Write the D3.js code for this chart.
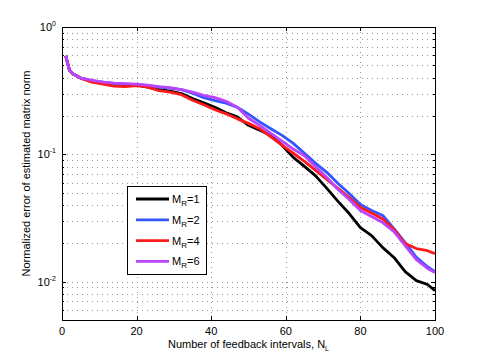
<!DOCTYPE html>
<html>
<head>
<meta charset="utf-8">
<script src="https://cdn.jsdelivr.net/npm/d3@7"></script>
<style>
  body { margin: 0; background: #fff; }
  svg { display: block; font-family: "Liberation Sans", Arial, sans-serif; }
</style>
</head>
<body>
<svg id="chart" width="480" height="360"></svg>
<script>
// feedback intervals N_L where values were read
const intervals = [1, 2, 3, 5, 8, 11, 14, 17, 20, 23, 26, 29, 32, 35, 38, 41, 44, 47, 50,
  53, 56, 59, 62, 65, 68, 71, 74, 77, 80, 83, 86, 89, 92, 95, 98, 100];

const errMR1 = [0.594, 0.458, 0.427, 0.397, 0.376, 0.362, 0.349, 0.346, 0.349, 0.337, 0.322, 0.313,
  0.300, 0.274, 0.254, 0.234, 0.212, 0.197, 0.169, 0.155, 0.140, 0.118, 0.0947, 0.0804, 0.0677,
  0.0540, 0.0427, 0.0343, 0.0266, 0.0230, 0.0185, 0.0155, 0.0120, 0.0102, 0.0095, 0.0085];
const errMR2 = [0.594, 0.458, 0.427, 0.397, 0.376, 0.369, 0.359, 0.356, 0.353, 0.346, 0.337, 0.331,
  0.322, 0.302, 0.279, 0.264, 0.252, 0.234, 0.207, 0.180, 0.159, 0.141, 0.122, 0.102, 0.0849,
  0.0722, 0.0591, 0.0493, 0.0404, 0.0362, 0.0331, 0.0261, 0.0203, 0.0155, 0.0131, 0.0120];
const errMR4 = [0.594, 0.458, 0.427, 0.397, 0.369, 0.356, 0.343, 0.340, 0.346, 0.337, 0.316, 0.308,
  0.294, 0.266, 0.245, 0.224, 0.208, 0.190, 0.175, 0.159, 0.137, 0.118, 0.102, 0.0881, 0.0748,
  0.0635, 0.0540, 0.0458, 0.0383, 0.0346, 0.0311, 0.0257, 0.0199, 0.0182, 0.0175, 0.0166];
const errMR6 = [0.594, 0.458, 0.427, 0.397, 0.383, 0.369, 0.362, 0.359, 0.356, 0.349, 0.340, 0.334,
  0.322, 0.308, 0.291, 0.279, 0.261, 0.234, 0.192, 0.169, 0.146, 0.127, 0.110, 0.0973, 0.0800,
  0.0659, 0.0530, 0.0442, 0.0362, 0.0325, 0.0291, 0.0247, 0.0192, 0.0149, 0.0127, 0.0118];

const seriesNames = ["1", "2", "4", "6"];
const seriesData = [errMR1, errMR2, errMR4, errMR6];
const colors = ["#000000", "#3355ff", "#ff1a1a", "#bb44ff"];

const xTicks = [0, 20, 40, 60, 80, 100];
const yMajor = [0.01, 0.1, 1];
const yExp = ["-2", "-1", "0"];

const svg = d3.select("#chart");
const plotL = 62, plotR = 435, plotT = 27, plotB = 320;

const x = d3.scaleLinear().domain([0, 100]).range([plotL, plotR]);
const y = d3.scaleLog().domain([0.005, 1]).range([plotB, plotT]);

// minor log positions
const yMinor = [];
[0.001, 0.01, 0.1].forEach(d => {
  for (let k = 2; k <= 9; k++) {
    const v = k * d;
    if (v >= 0.005 && v < 1) yMinor.push(v);
  }
});
const yGrid = yMinor.concat([0.01, 0.1]);

const grid = svg.append("g")
  .attr("stroke", "#999")
  .attr("stroke-width", 1)
  .attr("stroke-dasharray", "1,4");

grid.selectAll("line.h")
  .data(yGrid)
  .enter()
  .append("line")
  .attr("x1", plotL).attr("x2", plotR)
  .attr("y1", d => Math.round(y(d)) + 0.5)
  .attr("y2", d => Math.round(y(d)) + 0.5);

grid.selectAll("line.v")
  .data(xTicks.slice(1, -1))
  .enter()
  .append("line")
  .attr("y1", plotT).attr("y2", plotB)
  .attr("x1", d => Math.round(x(d)) + 0.5)
  .attr("x2", d => Math.round(x(d)) + 0.5);

// ticks (inward, MATLAB style)
const ticks = svg.append("g").attr("stroke", "#000").attr("stroke-width", 1);
xTicks.forEach(d => {
  const px = Math.round(x(d)) + 0.5;
  ticks.append("line").attr("x1", px).attr("x2", px).attr("y1", plotB).attr("y2", plotB - 4);
  ticks.append("line").attr("x1", px).attr("x2", px).attr("y1", plotT).attr("y2", plotT + 4);
});
yMajor.concat(yMinor).forEach(d => {
  const py = Math.round(y(d)) + 0.5;
  const len = yMajor.includes(d) ? 4 : 2;
  ticks.append("line").attr("x1", plotL).attr("x2", plotL + len).attr("y1", py).attr("y2", py);
  ticks.append("line").attr("x1", plotR).attr("x2", plotR - len).attr("y1", py).attr("y2", py);
});

// lines
const line = d3.line()
  .x((d, i) => x(intervals[i]))
  .y(d => y(d));

seriesData.forEach((s, i) => {
  svg.append("path")
    .datum(s)
    .attr("fill", "none")
    .attr("stroke", colors[i])
    .attr("stroke-width", 2.8)
    .attr("stroke-linejoin", "round")
    .attr("d", line);
});

// axes box
svg.append("rect")
  .attr("x", plotL + 0.5).attr("y", plotT + 0.5)
  .attr("width", plotR - plotL).attr("height", plotB - plotT)
  .attr("fill", "none").attr("stroke", "#000").attr("stroke-width", 1);

// tick labels
svg.selectAll("text.xt")
  .data(xTicks)
  .enter()
  .append("text")
  .attr("x", d => x(d))
  .attr("y", plotB + 15)
  .attr("text-anchor", "middle")
  .attr("font-size", "11px")
  .text(d => d);

yMajor.forEach((d, i) => {
  const t = svg.append("text")
    .attr("x", plotL - 6)
    .attr("y", y(d) + 4)
    .attr("text-anchor", "end")
    .attr("font-size", "11px");
  t.append("tspan").text("10");
  t.append("tspan").attr("dy", -5).attr("font-size", "7px").text(yExp[i]);
});

// axis titles
const xt = svg.append("text")
  .attr("x", (plotL + plotR) / 2)
  .attr("y", plotB + 28)
  .attr("text-anchor", "middle")
  .attr("font-size", "11px");
xt.append("tspan").text("Number of feedback intervals, N");
xt.append("tspan").attr("dy", 3).attr("font-size", "7px").text("L");

svg.append("text")
  .attr("transform", `translate(30,${(plotT + plotB) / 2}) rotate(-90)`)
  .attr("text-anchor", "middle")
  .attr("font-size", "11px")
  .text("Normalized error of estimated matrix norm");

// legend
const lg = svg.append("g");
lg.append("rect")
  .attr("x", 127.5).attr("y", 186.5)
  .attr("width", 79).attr("height", 88)
  .attr("fill", "#fff").attr("stroke", "#000").attr("stroke-width", 1);

seriesNames.forEach((n, i) => {
  const ly = 199 + i * 20.8;
  lg.append("line")
    .attr("x1", 136).attr("x2", 169)
    .attr("y1", ly).attr("y2", ly)
    .attr("stroke", colors[i]).attr("stroke-width", 2.8);
  const t = lg.append("text")
    .attr("x", 172).attr("y", ly + 4)
    .attr("font-size", "11px");
  t.append("tspan").text("M");
  t.append("tspan").attr("dy", 3).attr("font-size", "8px").text("R");
  t.append("tspan").attr("dy", -3).text("=" + n);
});
</script>
</body>
</html>
